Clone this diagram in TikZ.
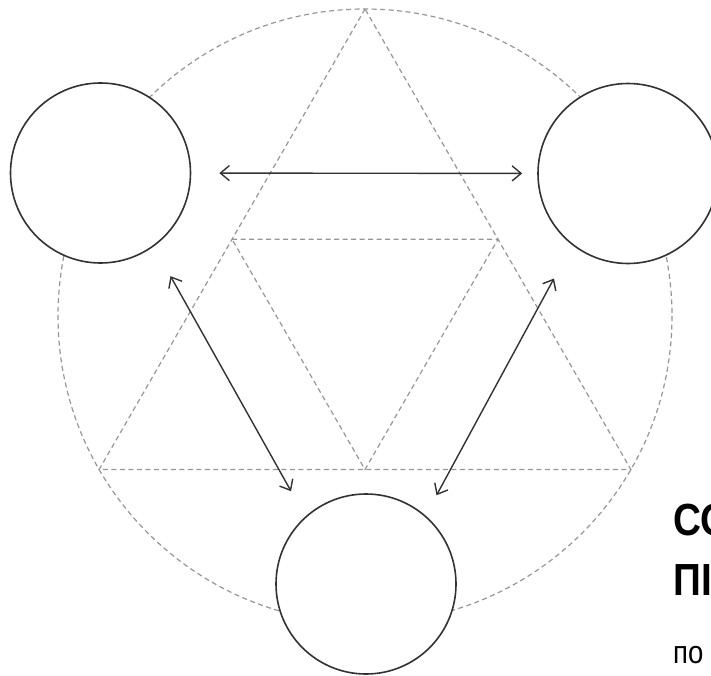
\documentclass[tikz,border=0pt]{standalone}
\usepackage{graphicx}
\usepackage{fontspec}
\setmainfont{Liberation Sans}
\usetikzlibrary{arrows.meta}
\definecolor{guidegray}{RGB}{150,150,150}
\definecolor{inkgray}{RGB}{50,50,50}
\begin{document}
\begin{tikzpicture}[x=1pt,y=-1pt,
  guide/.style={draw=guidegray, dash pattern=on 5pt off 3.5pt, line width=1.2pt},
  ring/.style={circle, draw=inkgray, line width=1.6pt, fill=white, minimum size=180pt, inner sep=0pt},
  arr/.style={draw=inkgray, line width=1.4pt, {Straight Barb[length=9pt,width=15pt]}-{Straight Barb[length=9pt,width=15pt]}},
  title/.style={anchor=base west, inner sep=0pt, font=\fontsize{45}{45}\selectfont\bfseries},
  sub/.style={anchor=base west, inner sep=0pt, font=\fontsize{32}{32}\selectfont}]
\useasboundingbox (0,0) rectangle (711,676);
\clip (0,0) rectangle (711,676);
% guide geometry
\coordinate (O) at (365,316);
\coordinate (T1) at (365,9);
\coordinate (T2) at (99.1,469.5);
\coordinate (T3) at (630.9,469.5);
\coordinate (M1) at (232.05,239.25);
\coordinate (M2) at (497.95,239.25);
\coordinate (M3) at (365,469.5);
\draw[guide] (O) circle[radius=307];
\draw[guide] (T1) -- (T2) -- (T3) -- cycle;
\draw[guide] (M1) -- (M2) -- (M3) -- cycle;
% circles
\node[ring] (L) at (100.5,173) {};
\node[ring] (R) at (628,173.5) {};
\node[ring] (B) at (366,584) {};
% arrows
\draw[arr, shorten <=28pt, shorten >=15pt] (L) -- (R);
\draw[arr, shorten <=34pt, shorten >=29pt] (L.-54) -- (B.132);
\draw[arr, shorten <=38pt, shorten >=23pt] (R.-128) -- (B.49);
% text
\node[title] (t1) at (673,535) {\scalebox{0.86}[1]{СО}};
\node[title] (t2) at (673,595) {\scalebox{0.86}[1]{ПІ}};
\node[sub] (t3) at (673,663) {\scalebox{0.86}[1]{по}};
\end{tikzpicture}
\end{document}
